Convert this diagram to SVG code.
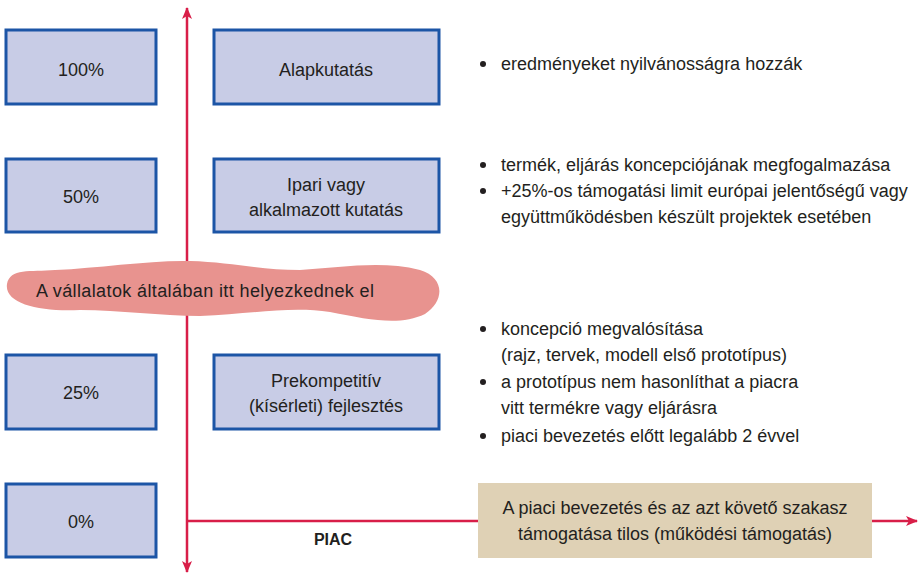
<svg xmlns="http://www.w3.org/2000/svg" width="920" height="574" viewBox="0 0 920 574">
<style>
.box{fill:#c8cce6;stroke:#1c55a6;stroke-width:3}
.t{font-family:"Liberation Sans",Arial,sans-serif;font-size:18px;fill:#231f20}
.c{text-anchor:middle}
.ax{stroke:#d81e48;stroke-width:2.5;fill:none}
</style>
<defs>
<marker id="ah" viewBox="0 0 12 10" refX="11" refY="5" markerWidth="12" markerHeight="10" markerUnits="userSpaceOnUse" orient="auto">
<path d="M0,0 L12,5 L0,10 L3,5 Z" fill="#d81e48"/>
</marker>
</defs>
<rect width="920" height="574" fill="#fff"/>
<g id="connectors">
<line class="ax" x1="187" y1="290" x2="187" y2="8" marker-end="url(#ah)"/>
<line class="ax" x1="187" y1="290" x2="187" y2="572" marker-end="url(#ah)"/>
<line class="ax" x1="187" y1="521" x2="917" y2="521" marker-end="url(#ah)"/>
</g>
<g id="cloud">
<path d="M7,284 C10,268 30,272 55,270 C100,268 150,260 190,261 C230,262 260,270 300,270 C340,268 380,260 420,270 C446,278 444,302 425,314 C400,326 370,320 330,312 C290,306 250,314 200,316 C160,316 120,310 80,310 C40,312 4,304 7,284 Z" fill="#e8938f"/>
<text class="t" x="36" y="297" textLength="338" lengthAdjust="spacing">A vállalatok általában itt helyezkednek el</text>
</g>
<g id="n100"><rect class="box" x="6" y="30" width="150" height="74"/><text class="t c" x="81" y="76">100%</text></g>
<g id="n50"><rect class="box" x="6" y="159" width="150" height="73"/><text class="t c" x="81" y="203">50%</text></g>
<g id="n25"><rect class="box" x="6" y="355" width="150" height="74"/><text class="t c" x="81" y="399">25%</text></g>
<g id="n0"><rect class="box" x="6" y="484" width="150" height="73"/><text class="t c" x="81" y="528">0%</text></g>
<g id="alap"><rect class="box" x="214" y="30" width="225" height="74"/><text class="t c" x="326" y="76">Alapkutatás</text></g>
<g id="ipari"><rect class="box" x="214" y="159" width="225" height="73"/><text class="t c" x="326" y="191">Ipari vagy</text><text class="t c" x="326" y="216">alkalmazott kutatás</text></g>
<g id="prek"><rect class="box" x="214" y="355" width="225" height="74"/><text class="t c" x="326" y="387">Prekompetitív</text><text class="t c" x="326" y="412">(kísérleti) fejlesztés</text></g>
<g id="piacbox"><rect x="478" y="483" width="394" height="75" fill="#dfd1b5"/><text class="t c" x="675" y="514">A piaci bevezetés és az azt követő szakasz</text><text class="t c" x="675" y="540">támogatása tilos (működési támogatás)</text></g>
<g id="piac"><text class="t c" x="333" y="545" style="font-weight:bold;font-size:16px">PIAC</text></g>
<g id="bullets">
<g fill="#231f20"><circle cx="483" cy="64" r="3"/><circle cx="483" cy="165" r="3"/><circle cx="483" cy="191" r="3"/><circle cx="483" cy="329" r="3"/><circle cx="483" cy="382" r="3"/><circle cx="483" cy="436" r="3"/></g>
<text class="t" x="501" y="70">eredményeket nyilvánosságra hozzák</text>
<text class="t" x="501" y="171">termék, eljárás koncepciójának megfogalmazása</text>
<text class="t" x="501" y="197">+25%-os támogatási limit európai jelentőségű vagy</text>
<text class="t" x="501" y="223">együttműködésben készült projektek esetében</text>
<text class="t" x="501" y="335">koncepció megvalósítása</text>
<text class="t" x="501" y="361">(rajz, tervek, modell első prototípus)</text>
<text class="t" x="501" y="388">a prototípus nem hasonlíthat a piacra</text>
<text class="t" x="501" y="414">vitt termékre vagy eljárásra</text>
<text class="t" x="501" y="442">piaci bevezetés előtt legalább 2 évvel</text>
</g>
</svg>
